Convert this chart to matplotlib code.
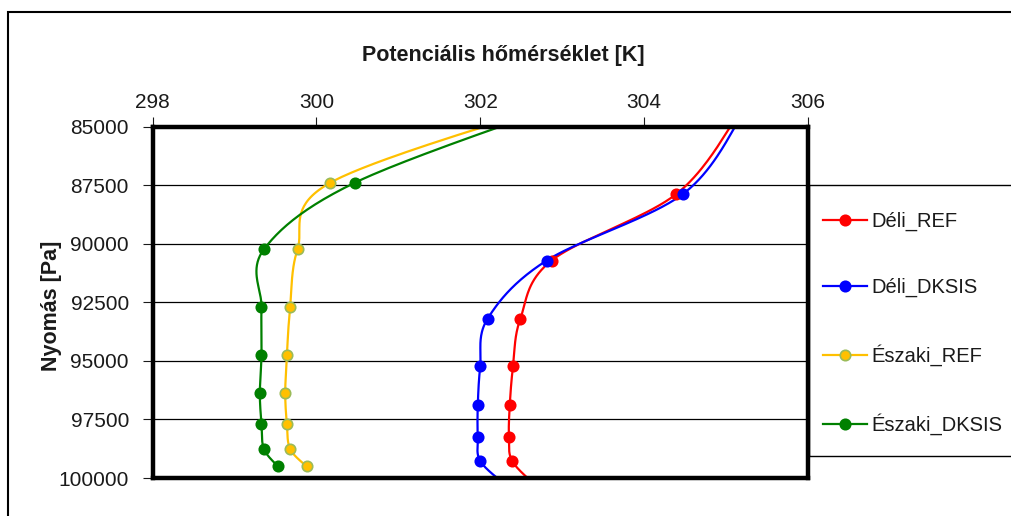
import numpy as np
import matplotlib
matplotlib.use("Agg")
import matplotlib.pyplot as plt
from matplotlib.patches import Rectangle

plt.rcParams['font.family'] = ['Liberation Sans', 'DejaVu Sans']

# ---- data ----
north_p = [84000, 87398, 90240, 92690, 94753, 96387, 97697, 98764, 99503]
eszaki_ref = [302.95, 300.17, 299.77, 299.68, 299.64, 299.62, 299.64, 299.68, 299.88]
eszaki_dksis = [303.05, 300.47, 299.36, 299.33, 299.33, 299.31, 299.33, 299.36, 299.53]

south_p = [84500, 87890, 90720, 93200, 95235, 96899, 98239, 99277, 100300]
deli_ref = [305.15, 304.39, 302.87, 302.49, 302.40, 302.36, 302.35, 302.39, 302.67]
deli_dksis = [305.20, 304.47, 302.81, 302.09, 302.00, 301.97, 301.97, 302.00, 302.31]

series_names = ['Déli_REF', 'Déli_DKSIS', 'Északi_REF', 'Északi_DKSIS']
x_ticks = [298, 300, 302, 304, 306]
y_ticks = [85000, 87500, 90000, 92500, 95000, 97500, 100000]
x_title = 'Potenciális hőmérséklet [K]'
y_title = 'Nyomás [Pa]'


def smooth(x, y, n=40):
    P = np.column_stack([x, y]).astype(float)
    E = np.vstack([P[0], P, P[-1]])
    t = np.linspace(0, 1, n)[:, None]
    out = []
    for i in range(len(P) - 1):
        p0, p1, p2, p3 = E[i], E[i + 1], E[i + 2], E[i + 3]
        c1 = p1 + (p2 - p0) / 6.0
        c2 = p2 - (p3 - p1) / 6.0
        B = (1 - t) ** 3 * p1 + 3 * (1 - t) ** 2 * t * c1 + 3 * (1 - t) * t ** 2 * c2 + t ** 3 * p2
        out.append(B if i == 0 else B[1:])
    B = np.vstack(out)
    return B[:, 0], B[:, 1]


W, H = 1011, 516
fig = plt.figure(figsize=(W / 100, H / 100), dpi=100)
L, R, T, Bt = 152.5, 808, 126.5, 478
ax = fig.add_axes([L / W, 1 - Bt / H, (R - L) / W, (Bt - T) / H])

ymin, ymax = min(y_ticks), max(y_ticks)
ax.set_xlim(min(x_ticks), max(x_ticks))
ax.set_ylim(ymax, ymin)

for yv in y_ticks[1:-1]:
    ax.axhline(yv, color='black', lw=0.9, zorder=1)

specs = [
    (south_p, deli_ref, '#FF0000', '#FF0000'),
    (south_p, deli_dksis, '#0000FF', '#0000FF'),
    (north_p, eszaki_ref, '#FFC000', '#9BBB59'),
    (north_p, eszaki_dksis, '#008000', '#008000'),
]
for (p, tv, col, ec), name in zip(specs, series_names):
    sx, sy = smooth(tv, p)
    ax.plot(sx, sy, color=col, lw=1.6, zorder=3, solid_capstyle='butt')
    p_arr = np.array(p)
    t_arr = np.array(tv)
    m = (p_arr > ymin) & (p_arr < ymax)
    ax.plot(t_arr[m], p_arr[m], linestyle='none', marker='o', markersize=7.5,
            markerfacecolor=col, markeredgecolor=ec, markeredgewidth=1.2, zorder=4)
    ax.plot([], [], color=col, lw=1.6, marker='o', markersize=7.5,
            markerfacecolor=col, markeredgecolor=ec, markeredgewidth=1.2, label=name)

ax.set_xticks(x_ticks)
ax.set_yticks(y_ticks)
ax.set_yticklabels([str(v) for v in y_ticks])
ax.xaxis.tick_top()
ax.tick_params(axis='x', direction='out', length=7, width=0.8, labelsize=15,
               pad=3.5, colors='#1a1a1a')
ax.tick_params(axis='y', direction='out', length=7, width=0.8, labelsize=15,
               pad=10, colors='#1a1a1a')
for s in ax.spines.values():
    s.set_linewidth(3.2)
    s.set_color('black')
    s.set_zorder(5)

fig.text(503 / W, 1 - 55 / H, x_title, ha='center', va='center',
         fontsize=15.5, fontweight='bold', color='#1a1a1a')
fig.text(52 / W, 1 - 306 / H, y_title, ha='center', va='center', rotation=90,
         fontsize=15.5, fontweight='bold', color='#1a1a1a')

# outer chart border (cropped at right/bottom)
fig.patches.append(Rectangle((8 / W, -0.5), 2.0, (1 - 12 / H) + 0.5,
                             transform=fig.transFigure, fill=False,
                             edgecolor='black', lw=1.5))
# legend box
fig.patches.append(Rectangle((809 / W, 1 - 456 / H), 2.0, (456 - 185) / H,
                             transform=fig.transFigure, fill=False,
                             edgecolor='black', lw=1.0, zorder=6))

leg = ax.legend(loc='center left', bbox_to_anchor=(809 / W, 1 - 323.5 / H),
                bbox_transform=fig.transFigure, frameon=False, fontsize=14.5,
                labelspacing=2.34, handlelength=2.2, handletextpad=0.2,
                borderpad=0.0, borderaxespad=0.7)
for t in leg.get_texts():
    t.set_color('#1a1a1a')

fig.savefig('out.png', dpi=100)
